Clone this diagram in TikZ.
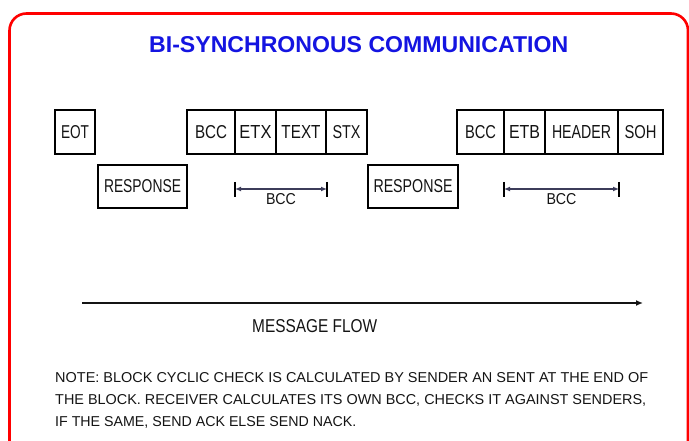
\documentclass[tikz,border=0pt]{standalone}
\usepackage{fontspec}
\setmainfont{Liberation Sans}
\usetikzlibrary{arrows.meta}
\definecolor{titleblue}{RGB}{20,20,225}
\definecolor{ink}{RGB}{20,20,20}
\definecolor{dimline}{RGB}{60,60,90}
\newcommand{\fitbox}[3]{\resizebox{#1pt}{#2pt}{#3}}
\tikzset{
  cell/.style={draw=black, line width=2pt, minimum height=44pt, inner sep=0pt, text=ink},
  resp/.style={draw=black, line width=2pt, minimum height=43pt, inner sep=0pt, text=ink},
  dim/.style={draw=dimline, line width=1.3pt, {Latex[length=6pt,width=5pt]}-{Latex[length=6pt,width=5pt]}},
  dimbar/.style={draw=black, line width=1.4pt},
  plain/.style={inner sep=0pt, text=ink}
}
\begin{document}
\begin{tikzpicture}[x=1pt,y=-1pt]
\useasboundingbox (0,0) rectangle (689,441);
\fill[white] (0,0) rectangle (689,441);
% frame
\draw[red, line width=2.6pt, rounded corners=17pt] (9.5,13.5) rectangle (688,480);
% title
\node[plain, text=titleblue, anchor=base west] (title) at (149,53) {\fitbox{419}{16}{\bfseries BI-SYNCHRONOUS COMMUNICATION}};
% first row
\node[cell, minimum width=40pt] (eot) at (75,132) {\fitbox{28}{13}{EOT}};
\node[cell, minimum width=48pt] (bcc1) at (211,132) {\fitbox{32}{13}{BCC}};
\node[cell, minimum width=41pt] (etx) at (255.5,132) {\fitbox{32}{13}{ETX}};
\node[cell, minimum width=50pt] (text) at (301,132) {\fitbox{39}{13}{TEXT}};
\node[cell, minimum width=41pt] (stx) at (346.5,132) {\fitbox{28}{13}{STX}};
\node[cell, minimum width=47pt] (bcc2) at (480.5,132) {\fitbox{31}{13}{BCC}};
\node[cell, minimum width=41pt] (etb) at (524.5,132) {\fitbox{31}{13}{ETB}};
\node[cell, minimum width=73pt] (header) at (581.5,132) {\fitbox{59}{13}{HEADER}};
\node[cell, minimum width=45pt] (soh) at (640.5,132) {\fitbox{32}{13}{SOH}};
% responses
\node[resp, minimum width=89pt] (resp1) at (142.5,186.5) {\fitbox{77}{13}{RESPONSE}};
\node[resp, minimum width=90pt] (resp2) at (413,186.5) {\fitbox{79}{13}{RESPONSE}};
% BCC dimension lines
\coordinate (d1a) at (235,189);
\coordinate (d1b) at (327,189);
\coordinate (d2a) at (504,189);
\coordinate (d2b) at (619,189);
\draw[dim] (d1a) -- (d1b);
\draw[dim] (d2a) -- (d2b);
\draw[dimbar] (d1a) ++(0,-7) -- ++(0,15);
\draw[dimbar] (d1b) ++(0,-7) -- ++(0,15);
\draw[dimbar] (d2a) ++(0,-7) -- ++(0,15);
\draw[dimbar] (d2b) ++(0,-7) -- ++(0,15);
\node[plain, anchor=base] (bcclab1) at (281,205) {\fitbox{30}{11}{BCC}};
\node[plain, anchor=base] (bcclab2) at (561.5,205) {\fitbox{30}{11}{BCC}};
% message flow
\coordinate (mfa) at (82,303);
\coordinate (mfb) at (643,303);
\draw[line width=2.6pt, draw=ink, -{Latex[length=7pt,width=6pt]}] (mfa) -- (mfb);
\node[plain, anchor=base west] (mflow) at (252,332) {\fitbox{125}{13}{MESSAGE FLOW}};
% note
\node[plain, anchor=base west] (note1) at (55,382) {\fitbox{593}{10}{NOTE: BLOCK CYCLIC CHECK IS CALCULATED BY SENDER AN SENT AT THE END OF}};
\node[plain, anchor=base west] (note2) at (55,404) {\fitbox{591}{10}{THE BLOCK. RECEIVER CALCULATES ITS OWN BCC, CHECKS IT AGAINST SENDERS,}};
\node[plain, anchor=base west] (note3) at (55,426) {\fitbox{301}{10}{IF THE SAME, SEND ACK ELSE SEND NACK.}};
\end{tikzpicture}
\end{document}
